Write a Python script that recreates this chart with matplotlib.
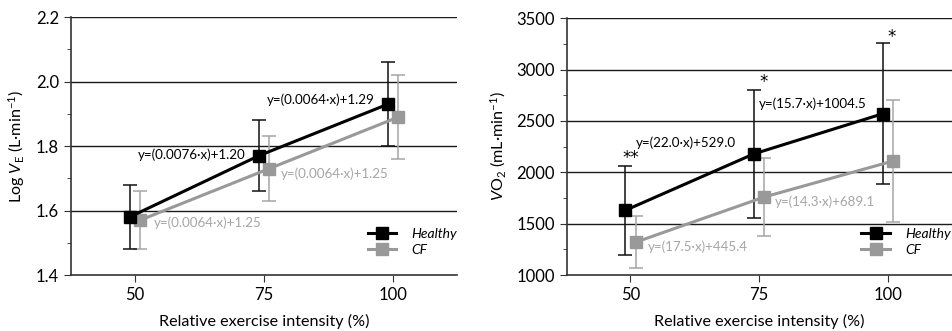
import numpy as np
import matplotlib
matplotlib.use('Agg')
import matplotlib.pyplot as plt
from matplotlib.ticker import MultipleLocator

plt.rcParams['font.family'] = ['Lato', 'DejaVu Sans']
plt.rcParams['mathtext.fontset'] = 'custom'
plt.rcParams['mathtext.rm'] = 'Lato'
plt.rcParams['mathtext.it'] = 'Lato:italic'

intensity = [50, 75, 100]
offset = 1.0

# Log VE
ve_healthy = [1.58, 1.77, 1.93]
ve_healthy_err = [0.10, 0.11, 0.13]
ve_cf = [1.57, 1.73, 1.89]
ve_cf_err = [0.09, 0.10, 0.13]

# VO2
vo2_healthy = [1630, 2180, 2570]
vo2_healthy_err = [435, 620, 685]
vo2_cf = [1320, 1760, 2110]
vo2_cf_err = [250, 380, 590]

ve_eq = [('y=(0.0064·x)+1.29', 75.6, 1.943, 'k'),
         ('y=(0.0076·x)+1.20', 50.6, 1.773, 'k'),
         ('y=(0.0064·x)+1.25', 78.2, 1.715, '#a6a6a6'),
         ('y=(0.0064·x)+1.25', 53.7, 1.562, '#a6a6a6')]
vo2_eq = [('y=(22.0·x)+529.0', 51.0, 2292, 'k'),
          ('y=(15.7·x)+1004.5', 74.9, 2665, 'k'),
          ('y=(14.3·x)+689.1', 78.1, 1711, '#a6a6a6'),
          ('y=(17.5·x)+445.4', 53.4, 1276, '#a6a6a6')]
vo2_sig = [('**', 48.5, 2140), ('*', 75.1, 2883), ('*', 100.0, 3321)]

fig = plt.figure(figsize=[9.53, 3.31], dpi=100)
ax1 = fig.add_axes([0.0742, 0.169, 0.4053, 0.779])
ax2 = fig.add_axes([0.5946, 0.169, 0.404, 0.776])


def panel(ax, h, herr, c, cerr, ylim, major, minor, ylabel, eqs, leg_x):
    xh = np.array(intensity) - offset
    xc = np.array(intensity) + offset
    ax.set_xlim(37.6, 112.4)
    ax.set_ylim(*ylim)
    ax.yaxis.set_major_locator(MultipleLocator(major))
    ax.yaxis.set_minor_locator(MultipleLocator(minor))
    ax.set_xticks(intensity)
    for yv in np.arange(ylim[0] + major, ylim[1] + major / 2, major):
        ax.axhline(yv, color='#1a1a1a', lw=1.0, zorder=0)
    ax.errorbar(xc, c, yerr=cerr, fmt='none', ecolor='#a6a6a6', elinewidth=1.1,
                capsize=5, capthick=1.1, zorder=2)
    ax.errorbar(xh, h, yerr=herr, fmt='none', ecolor='#111111', elinewidth=1.1,
                capsize=5, capthick=1.1, zorder=3)
    ax.plot(xh, h, color='black', lw=2.2, marker='s', ms=9, label='Healthy', zorder=5)
    ax.plot(xc, c, color='#999999', lw=2.2, marker='s', ms=9, label='CF', zorder=4)
    for txt, x, y, col in eqs:
        ax.text(x, y, txt, color=col, fontsize=9.6, ha='left', va='center')
    for s in ['top', 'right']:
        ax.spines[s].set_visible(False)
    for s in ['left', 'bottom']:
        ax.spines[s].set_color('#333333')
        ax.spines[s].set_linewidth(1.2)
    ax.tick_params(which='both', direction='out', color='#333333', labelsize=12)
    ax.tick_params(which='major', length=5)
    ax.tick_params(which='minor', length=3)
    ax.set_xlabel('Relative exercise intensity (%)', fontsize=11.6, labelpad=8)
    ax.set_ylabel(ylabel, fontsize=11.6, labelpad=6)
    leg = ax.legend(loc='center left', bbox_to_anchor=(leg_x, 0.128), frameon=False,
                    fontsize=10, handlelength=2.05, handletextpad=1.1,
                    borderaxespad=0.0, labelspacing=0.3)
    for t in leg.get_texts():
        t.set_fontstyle('italic')


panel(ax1, ve_healthy, ve_healthy_err, ve_cf, ve_cf_err, (1.4, 2.2), 0.2, 0.1,
      r'Log $\mathit{V}_{\mathrm{E}}$ (L·min$^{-1}$)', ve_eq, 0.755)
panel(ax2, vo2_healthy, vo2_healthy_err, vo2_cf, vo2_cf_err, (1000, 3500), 500, 250,
      r'$\mathit{V}\mathrm{O}_{2}$ (mL·min$^{-1}$)', vo2_eq, 0.751)
ax1.yaxis.set_major_formatter(matplotlib.ticker.FormatStrFormatter('%.1f'))
for txt, x, y in vo2_sig:
    ax2.text(x, y, txt, fontsize=12, family='DejaVu Sans', ha='left', va='center')

fig.savefig('out.png', dpi=100)
